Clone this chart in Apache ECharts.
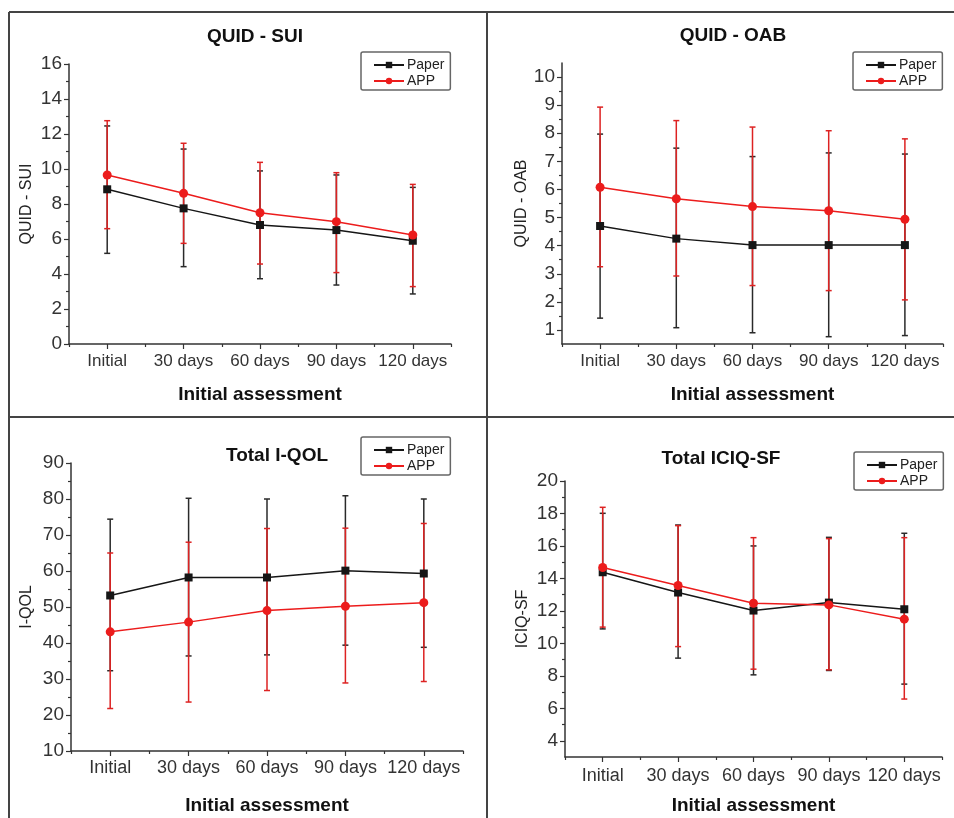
<!DOCTYPE html>
<html>
<head>
<meta charset="utf-8">
<script src="https://cdn.jsdelivr.net/npm/echarts@6/dist/echarts.min.js"></script>
<style>
  html, body { margin: 0; padding: 0; background: #fff; }
  #chart { width: 954px; height: 818px; }
</style>
</head>
<body>
<div id="chart"></div>
<script>
// 横轴分类
const categories = ['Initial', '30 days', '60 days', '90 days', '120 days'];

// QUID - SUI
const suiPaper = [8.84, 7.75, 6.8, 6.51, 5.9];
const suiPaperLow = [5.18, 4.42, 3.73, 3.37, 2.86];
const suiPaperHigh = [12.46, 11.14, 9.89, 9.66, 8.95];
const suiApp = [9.66, 8.61, 7.5, 6.99, 6.23];
const suiAppLow = [6.59, 5.75, 4.57, 4.08, 3.28];
const suiAppHigh = [12.76, 11.47, 10.38, 9.79, 9.12];
const suiTicks = [0, 2, 4, 6, 8, 10, 12, 14, 16];
const suiMinor = [1, 3, 5, 7, 9, 11, 13, 15];

// QUID - OAB
const oabPaper = [4.7, 4.25, 4.02, 4.02, 4.02];
const oabPaperLow = [1.42, 1.08, 0.9, 0.76, 0.8];
const oabPaperHigh = [7.97, 7.47, 7.17, 7.3, 7.26];
const oabApp = [6.08, 5.67, 5.39, 5.24, 4.94];
const oabAppLow = [3.25, 2.92, 2.58, 2.4, 2.07];
const oabAppHigh = [8.93, 8.45, 8.22, 8.09, 7.8];
const oabTicks = [1, 2, 3, 4, 5, 6, 7, 8, 9, 10];
const oabMinor = [1.5, 2.5, 3.5, 4.5, 5.5, 6.5, 7.5, 8.5, 9.5];

// Total I-QOL
const qolPaper = [53.2, 58.2, 58.2, 60.1, 59.3];
const qolPaperLow = [32.3, 36.4, 36.7, 39.4, 38.8];
const qolPaperHigh = [74.4, 80.2, 80.0, 80.9, 80.0];
const qolApp = [43.1, 45.8, 49.0, 50.2, 51.2];
const qolAppLow = [21.8, 23.6, 26.8, 28.9, 29.3];
const qolAppHigh = [65.0, 68.0, 71.8, 71.9, 73.2];
const qolTicks = [10, 20, 30, 40, 50, 60, 70, 80, 90];
const qolMinor = [15, 25, 35, 45, 55, 65, 75, 85];

// Total ICIQ-SF
const iciqPaper = [14.38, 13.13, 12.02, 12.51, 12.1];
const iciqPaperLow = [10.89, 9.09, 8.06, 8.33, 7.49];
const iciqPaperHigh = [18.01, 17.29, 16.0, 16.53, 16.78];
const iciqApp = [14.67, 13.56, 12.47, 12.37, 11.49];
const iciqAppLow = [11.0, 9.8, 8.41, 8.37, 6.57];
const iciqAppHigh = [18.38, 17.25, 16.51, 16.45, 16.51];
const iciqTicks = [4, 6, 8, 10, 12, 14, 16, 18, 20];
const iciqMinor = [5, 7, 9, 11, 13, 15, 17, 19];

const FONT = 'Liberation Sans, Arial, sans-serif';
const BLACK = '#161616';
const RED = '#ec1c1c';

const panels = [
  { title: 'QUID - SUI', yName: 'QUID - SUI', min: 0, max: 16, ticks: suiTicks, minor: suiMinor,
    paper: [suiPaper, suiPaperLow, suiPaperHigh], app: [suiApp, suiAppLow, suiAppHigh],
    grid: { left: 69, top: 64, width: 382, height: 280 }, titlePos: [250, 22], legendPos: [361, 52],
    yNameGap: 34, xNameGap: 41, catSize: 17, catMargin: 9 },
  { title: 'QUID - OAB', yName: 'QUID - OAB', min: 0.5, max: 10.5, ticks: oabTicks, minor: oabMinor,
    paper: [oabPaper, oabPaperLow, oabPaperHigh], app: [oabApp, oabAppLow, oabAppHigh],
    grid: { left: 562, top: 63, width: 381, height: 281 }, titlePos: [728, 21], legendPos: [853, 52],
    yNameGap: 27, xNameGap: 41, catSize: 17, catMargin: 9 },
  { title: 'Total I-QOL', yName: 'I-QOL', min: 10, max: 90, ticks: qolTicks, minor: qolMinor,
    paper: [qolPaper, qolPaperLow, qolPaperHigh], app: [qolApp, qolAppLow, qolAppHigh],
    grid: { left: 71, top: 463, width: 392, height: 288 }, titlePos: [272, 441], legendPos: [361, 437],
    yNameGap: 36, xNameGap: 45, catSize: 18, catMargin: 8 },
  { title: 'Total ICIQ-SF', yName: 'ICIQ-SF', min: 3, max: 20, ticks: iciqTicks, minor: iciqMinor,
    paper: [iciqPaper, iciqPaperLow, iciqPaperHigh], app: [iciqApp, iciqAppLow, iciqAppHigh],
    grid: { left: 565, top: 481, width: 377, height: 276 }, titlePos: [716, 444], legendPos: [854, 452],
    yNameGap: 34, xNameGap: 39, catSize: 18, catMargin: 10 }
];

// 误差线
function errorBar(color) {
  return function (params, api) {
    const lo = api.coord([api.value(0), api.value(1)]);
    const hi = api.coord([api.value(0), api.value(2)]);
    const hw = 3;
    const style = { stroke: color, lineWidth: 1.5 };
    return {
      type: 'group',
      children: [
        { type: 'line', shape: { x1: lo[0], y1: lo[1], x2: hi[0], y2: hi[1] }, style: style },
        { type: 'line', shape: { x1: lo[0] - hw, y1: lo[1], x2: lo[0] + hw, y2: lo[1] }, style: style },
        { type: 'line', shape: { x1: hi[0] - hw, y1: hi[1], x2: hi[0] + hw, y2: hi[1] }, style: style }
      ]
    };
  };
}

const grid = [], xAxis = [], yAxis = [], series = [], title = [], legend = [];
const axisLine = { show: true, lineStyle: { color: '#333', width: 1.5 } };

panels.forEach(function (p, i) {
  grid.push(p.grid);
  title.push({
    text: p.title, left: p.titlePos[0], top: p.titlePos[1], textAlign: 'center',
    textStyle: { fontFamily: FONT, fontSize: 19, fontWeight: 'bold', color: '#111' }
  });
  legend.push({
    data: ['Paper', 'APP'], left: p.legendPos[0], top: p.legendPos[1], orient: 'vertical',
    itemWidth: 30, itemHeight: 8, itemGap: 2, padding: [6, 6, 2, 12],
    borderColor: '#666', borderWidth: 1.5, borderRadius: 2,
    textStyle: { fontFamily: FONT, fontSize: 14, lineHeight: 14, color: '#222', padding: [0, 0, 0, -2] }
  });
  // 主轴
  xAxis.push({
    type: 'category', gridIndex: i, data: categories, boundaryGap: true,
    name: 'Initial assessment', nameLocation: 'middle', nameGap: p.xNameGap,
    nameTextStyle: { fontFamily: FONT, fontSize: 19, fontWeight: 'bold', color: '#111' },
    axisLine: axisLine,
    axisTick: { show: true, alignWithLabel: true, inside: false, length: 5, lineStyle: { color: '#333', width: 1.2 } },
    axisLabel: { interval: 0, fontFamily: FONT, fontSize: p.catSize, color: '#333', margin: p.catMargin },
    splitLine: { show: false }
  });
  // 次刻度
  xAxis.push({
    type: 'category', gridIndex: i, data: categories, boundaryGap: true, position: 'bottom',
    axisLine: { show: false },
    axisTick: { show: true, interval: 0, alignWithLabel: false, length: 3, lineStyle: { color: '#333', width: 1.2 } },
    axisLabel: { show: false }, splitLine: { show: false }
  });
  yAxis.push({
    type: 'value', gridIndex: i, min: p.min, max: p.max,
    name: p.yName, nameLocation: 'middle', nameGap: p.yNameGap,
    nameTextStyle: { fontFamily: FONT, fontSize: 16, color: '#222' },
    axisLine: axisLine,
    axisTick: { show: true, length: 5, customValues: p.ticks, lineStyle: { color: '#333', width: 1.2 } },
    axisLabel: { customValues: p.ticks, fontFamily: FONT, fontSize: 19, color: '#333', margin: 7 },
    splitLine: { show: false }
  });
  yAxis.push({
    type: 'value', gridIndex: i, min: p.min, max: p.max, position: 'left',
    axisLine: { show: false },
    axisTick: { show: true, length: 3, customValues: p.minor, lineStyle: { color: '#333', width: 1.2 } },
    axisLabel: { show: false }, splitLine: { show: false }
  });

  const ax = { xAxisIndex: i * 2, yAxisIndex: i * 2 };
  series.push(Object.assign({
    type: 'custom', name: 'Paper SD', renderItem: errorBar('#2a2a2a'), z: 2,
    data: categories.map(function (c, j) { return [j, p.paper[1][j], p.paper[2][j]]; })
  }, ax));
  series.push(Object.assign({
    type: 'custom', name: 'APP SD', renderItem: errorBar('#dd2222'), z: 3,
    data: categories.map(function (c, j) { return [j, p.app[1][j], p.app[2][j]]; })
  }, ax));
  series.push(Object.assign({
    type: 'line', name: 'Paper', data: p.paper[0], z: 4,
    symbol: 'rect', symbolSize: 8,
    itemStyle: { color: BLACK }, lineStyle: { color: BLACK, width: 1.5 }
  }, ax));
  series.push(Object.assign({
    type: 'line', name: 'APP', data: p.app[0], z: 5,
    symbol: 'circle', symbolSize: 9,
    itemStyle: { color: RED }, lineStyle: { color: RED, width: 1.5 }
  }, ax));
});

const frame = { stroke: '#444', lineWidth: 2 };
const option = {
  animation: false,
  backgroundColor: '#fff',
  title: title,
  legend: legend,
  grid: grid,
  xAxis: xAxis,
  yAxis: yAxis,
  series: series,
  graphic: [
    { type: 'line', shape: { x1: 9, y1: 12, x2: 954, y2: 12 }, style: frame },
    { type: 'line', shape: { x1: 9, y1: 12, x2: 9, y2: 818 }, style: frame },
    { type: 'line', shape: { x1: 487, y1: 12, x2: 487, y2: 818 }, style: frame },
    { type: 'line', shape: { x1: 9, y1: 417, x2: 954, y2: 417 }, style: frame }
  ]
};

const myChart = echarts.init(document.getElementById('chart'));
option && myChart.setOption(option);
</script>
</body>
</html>
